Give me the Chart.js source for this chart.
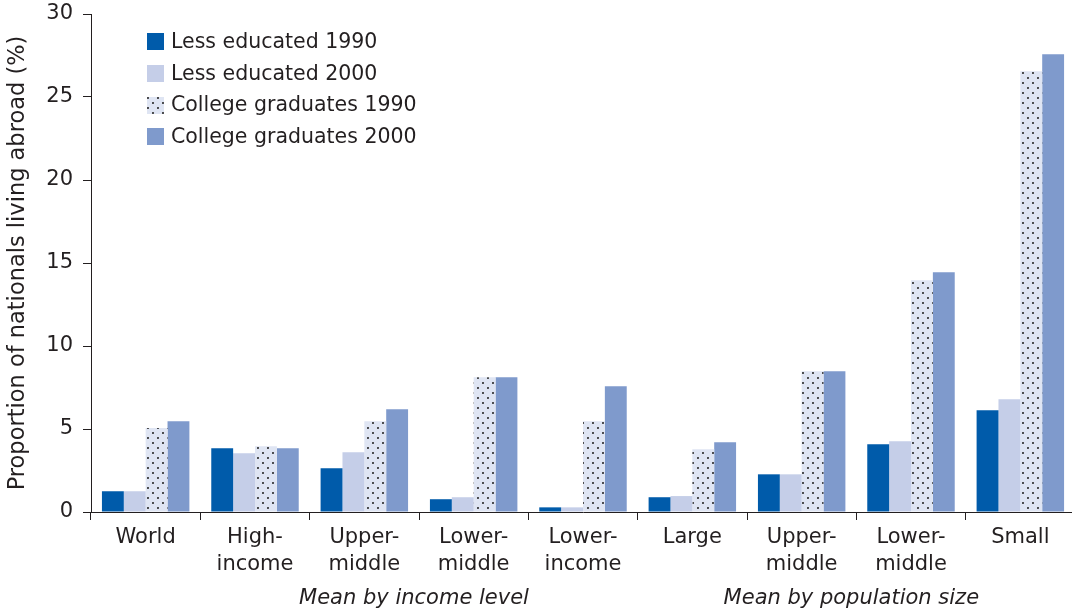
<!DOCTYPE html>
<html>
<head>
<meta charset="utf-8">
<script src="https://cdn.jsdelivr.net/npm/chart.js@4.4.1/dist/chart.umd.min.js"></script>
<style>
  html, body { margin: 0; padding: 0; overflow: hidden; background: #ffffff; }
  #wrap { width: 1076px; height: 609px; }
</style>
</head>
<body>
<div id="wrap"><canvas id="c" width="1076" height="609"></canvas></div>
<script>
// ---- data ----
const categories = [
  ['World'], ['High-', 'income'], ['Upper-', 'middle'], ['Lower-', 'middle'], ['Lower-', 'income'],
  ['Large'], ['Upper-', 'middle'], ['Lower-', 'middle'], ['Small']
];
const seriesNames = ['Less educated 1990', 'Less educated 2000', 'College graduates 1990', 'College graduates 2000'];
const lessEducated1990   = [1.25, 3.84, 2.63, 0.77, 0.28, 0.89, 2.27, 4.08, 6.13];
const lessEducated2000   = [1.25, 3.54, 3.60, 0.89, 0.28, 0.96, 2.27, 4.26, 6.79];
const collegeGrads1990   = [5.06, 3.96, 5.46, 8.11, 5.46, 3.78, 8.48, 13.96, 26.55];
const collegeGrads2000   = [5.46, 3.84, 6.19, 8.11, 7.57, 4.20, 8.48, 14.44, 27.57];
const yAxisTitle = 'Proportion of nationals living abroad (%)';
const groupLabels = ['Mean by income level', 'Mean by population size'];
const groupCentres = [2.5, 6.5]; // category-scale value at the centre of each group caption

// ---- styling ----
const TEXT = '#231f20';
const FONT = "'DejaVu Sans', 'Liberation Sans', sans-serif";

function dotPattern() {
  const t = document.createElement('canvas');
  t.width = 10; t.height = 10;
  const g = t.getContext('2d');
  g.fillStyle = '#dfe5f3';
  g.fillRect(0, 0, 10, 10);
  g.fillStyle = '#262626';
  [[3, 3], [8, 8]].forEach(([x, y]) => { g.beginPath(); g.arc(x, y, 1.05, 0, Math.PI * 2); g.fill(); });
  return document.getElementById('c').getContext('2d').createPattern(t, 'repeat');
}

const colours = ['#005baa', '#c5cee8', dotPattern(), '#7f9acc'];
const seriesData = [lessEducated1990, lessEducated2000, collegeGrads1990, collegeGrads2000];

const captions = {
  id: 'captions',
  afterDraw(chart) {
    const ctx = chart.ctx;
    const area = chart.chartArea;
    ctx.save();
    // legend (inside the plot, top-left)
    ctx.font = "20.5px " + FONT;
    ctx.textBaseline = 'middle';
    ctx.textAlign = 'left';
    chart.data.datasets.forEach((d, i) => {
      const y = area.top + 27.7 + i * 31.67;
      ctx.fillStyle = d.backgroundColor;
      ctx.fillRect(area.left + 56, Math.round(y - 8.5), 17, 17);
      ctx.fillStyle = TEXT;
      ctx.fillText(d.label, area.left + 80, y + 1);
    });
    // group captions under the axis
    const xs = chart.scales.x;
    ctx.font = "italic 21px " + FONT;
    ctx.textAlign = 'center';
    ctx.textBaseline = 'alphabetic';
    ctx.fillStyle = TEXT;
    groupLabels.forEach((lab, i) => {
      ctx.fillText(lab, xs.getPixelForValue(groupCentres[i]) - 5, 604);
    });
    ctx.restore();
  }
};

Chart.defaults.font.family = FONT;
Chart.defaults.color = TEXT;

new Chart(document.getElementById('c'), {
  type: 'bar',
  data: {
    labels: categories,
    datasets: seriesNames.map((name, i) => ({
      label: name,
      data: seriesData[i],
      backgroundColor: colours[i],
      borderWidth: 0,
      categoryPercentage: 0.8,
      barPercentage: 1.0
    }))
  },
  options: {
    responsive: false,
    animation: false,
    layout: { padding: { top: 14, right: 1, left: 5, bottom: 0 } },
    plugins: { legend: { display: false }, tooltip: { enabled: false } },
    scales: {
      x: {
        grid: { offset: true, drawOnChartArea: false, drawTicks: true, tickLength: 8, color: TEXT, lineWidth: 1 },
        border: { display: true, color: TEXT, width: 1 },
        ticks: { font: { size: 21, lineHeight: 1.28 }, color: TEXT, padding: 4, maxRotation: 0, autoSkip: false },
        afterFit(scale) { scale.height = 97; scale.paddingLeft = 0; scale.paddingRight = 0; }
      },
      y: {
        min: 0, max: 30,
        grid: { drawOnChartArea: false, drawTicks: true, tickLength: 8, color: TEXT, lineWidth: 1 },
        border: { display: true, color: TEXT, width: 1 },
        ticks: { stepSize: 5, font: { size: 21 }, color: TEXT, padding: 10 },
        title: { display: true, text: yAxisTitle, font: { size: 22.5, lineHeight: 1.2 }, color: TEXT, padding: 0 },
        afterFit(scale) { scale.width = 86; scale.paddingTop = 0; scale.paddingBottom = 0; }
      }
    }
  },
  plugins: [captions]
});
</script>
</body>
</html>
